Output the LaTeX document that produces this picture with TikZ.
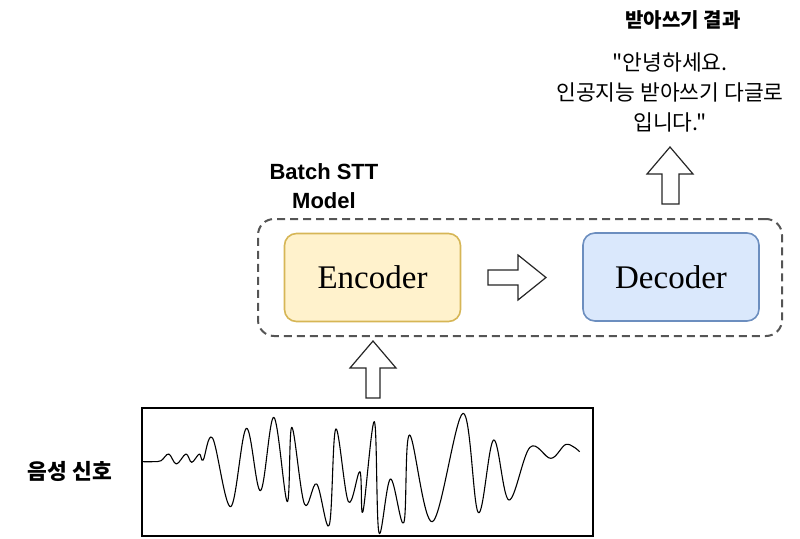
\documentclass[tikz,border=0pt]{standalone}
\usepackage{fontspec}
\setmainfont{Liberation Serif}
\newfontfamily\kr{Noto Sans CJK KR}
\newfontfamily\hv{Liberation Sans}
\definecolor{encfill}{HTML}{FFF2CC}
\definecolor{encline}{HTML}{D6B656}
\definecolor{decfill}{HTML}{DAE8FC}
\definecolor{decline}{HTML}{6C8EBF}
\definecolor{dashgray}{HTML}{555555}
\tikzset{
  block/.style={rounded corners=12pt, line width=1.6pt, minimum width=176pt, minimum height=88pt,
    font=\fontsize{33}{38}\selectfont, inner sep=0pt},
  blockarrow/.style={draw=black!85, fill=white, line width=1.2pt, line join=miter},
  krtext/.style={font=\kr\fontsize{18}{30}\selectfont, align=center, inner sep=0pt},
}
\begin{document}
\begin{tikzpicture}[x=1pt,y=-1pt]
\useasboundingbox (0,0) rectangle (800,538);
% group box
\node[draw=dashgray, line width=2pt, dash pattern=on 8pt off 5pt, rounded corners=16pt,
  minimum width=524pt, minimum height=117pt, inner sep=0pt] (group) at (520,277.5) {};
\node[font=\hv\bfseries\fontsize{22}{29}\selectfont, align=center, inner sep=0pt] (glabel) at (324,186) {Batch STT\\Model};
% encoder / decoder
\node[block, draw=encline, fill=encfill] (enc) at (372.5,277.5) {Encoder};
\node[block, draw=decline, fill=decfill] (dec) at (671,277) {Decoder};
% right arrow between
\draw[blockarrow] (488,270) -- (518,270) -- (518,255) -- (546,277.5) -- (518,300) -- (518,285) -- (488,285) -- cycle;
% up arrow into model
\draw[blockarrow] (366,398) -- (366,368) -- (350,368) -- (373,341) -- (396,368) -- (380,368) -- (380,398) -- cycle;
% up arrow to result
\draw[blockarrow] (662,204) -- (662,174) -- (647,174) -- (670,147) -- (693,174) -- (679,174) -- (679,204) -- cycle;
% result texts
\node[krtext, font=\kr\bfseries\fontsize{20}{24}\selectfont] (title) at (683,20) {받아쓰기 결과};
\node[krtext, font=\kr\fontsize{21.5}{30}\selectfont] (result) at (670,92) {"안녕하세요.\\인공지능 받아쓰기 다글로\\입니다."};
% signal
\node[draw=black, line width=1.5pt, minimum width=451pt, minimum height=128pt, inner sep=0pt] (sig) at (367.5,472) {};
\node[krtext, font=\kr\bfseries\fontsize{21.5}{24}\selectfont] (siglabel) at (70,471) {음성 신호};
\begin{scope}[shift={(142,330)}, xscale=0.3822, yscale=0.33333]
\draw[line width=1.1pt, line join=round] plot[smooth, tension=0.6] coordinates {
 (0,395) (30,395) (50,392) (70,372) (90,402) (115,372) (130,397) (150,372) (160,390)
 (185,325) (232,530) (273,295) (310,482) (345,262) (380,515) (392,292) (425,522)
 (457,462) (490,585) (507,297) (540,515) (570,425) (578,545) (608,275) (620,608)
 (650,447) (685,578) (700,315) (760,575) (840,250) (880,548) (920,330) (960,510)
 (1015,352) (1070,385) (1110,343) (1145,365)};
\end{scope}
\end{tikzpicture}
\end{document}
